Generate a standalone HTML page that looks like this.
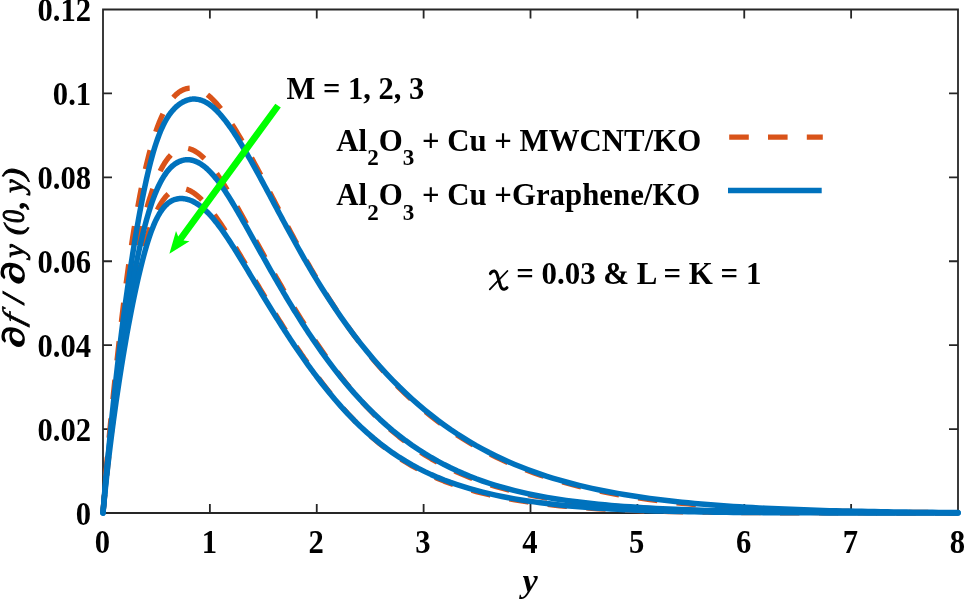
<!DOCTYPE html>
<html><head><meta charset="utf-8"><style>
html,body{margin:0;padding:0;background:#fff;}
svg{display:block;will-change:transform;}
text{font-family:"Liberation Serif",serif;font-weight:bold;fill:#000;}
</style></head><body>
<svg width="965" height="600" viewBox="0 0 965 600">
<rect width="965" height="600" fill="#fff"/>
<path d="M103,9.5H958V513H103ZM103.00,513V504M103.00,9.5V18.5M209.88,513V504M209.88,9.5V18.5M316.75,513V504M316.75,9.5V18.5M423.62,513V504M423.62,9.5V18.5M530.50,513V504M530.50,9.5V18.5M637.38,513V504M637.38,9.5V18.5M744.25,513V504M744.25,9.5V18.5M851.12,513V504M851.12,9.5V18.5M958.00,513V504M958.00,9.5V18.5M103,513.00H112M958,513.00H949M103,429.08H112M958,429.08H949M103,345.16H112M958,345.16H949M103,261.24H112M958,261.24H949M103,177.32H112M958,177.32H949M103,93.40H112M958,93.40H949M103,9.48H112M958,9.48H949" stroke="#262626" stroke-width="1.8" fill="none"/>
<g fill="none" stroke-linejoin="round">
<path d="M103.00,513.00 L103.32,508.47 L104.54,491.99 L105.76,476.52 L106.98,461.88 L108.19,447.95 L109.41,434.62 L110.48,423.35 L111.87,409.22 L113.25,395.56 L114.63,382.29 L116.02,369.35 L117.40,356.70 L118.79,344.33 L120.17,332.22 L121.56,320.38 L122.94,308.84 L124.32,297.61 L125.71,286.74 L127.09,276.24 L128.48,266.09 L129.86,256.29 L131.25,246.85 L132.63,237.75 L134.02,228.99 L135.40,220.56 L136.78,212.47 L138.17,204.69 L139.55,197.24 L140.94,190.10 L142.32,183.27 L143.71,176.73 L145.09,170.50 L146.47,164.55 L147.86,158.89 L149.24,153.51 L150.63,148.40 L152.01,143.55 L153.40,138.96 L154.78,134.63 L156.16,130.54 L157.55,126.69 L158.93,123.07 L160.32,119.68 L161.70,116.50 L163.09,113.53 L164.47,110.76 L165.86,108.19 L167.24,105.80 L168.62,103.60 L170.01,101.58 L171.39,99.72 L172.78,98.02 L174.16,96.47 L175.55,95.08 L176.93,93.82 L178.31,92.70 L179.70,91.71 L181.08,90.84 L182.47,90.10 L183.85,89.47 L185.24,88.97 L186.62,88.58 L188.01,88.30 L189.39,88.12 L190.77,88.06 L192.16,88.10 L193.54,88.24 L194.93,88.47 L196.31,88.81 L197.70,89.24 L199.08,89.76 L200.46,90.38 L201.85,91.08 L203.23,91.87 L204.62,92.74 L206.00,93.70 L207.39,94.74 L208.77,95.86 L210.15,97.05 L211.54,98.32 L212.92,99.67 L214.31,101.09 L215.69,102.57 L217.08,104.12 L218.46,105.74 L219.85,107.41 L221.23,109.15 L222.61,110.94 L224.00,112.79 L225.38,114.69 L226.77,116.63 L228.15,118.63 L229.54,120.67 L230.92,122.76 L232.30,124.88 L233.69,127.05 L235.07,129.26 L236.46,131.50 L237.84,133.77 L239.23,136.08 L240.61,138.42 L241.99,140.79 L243.38,143.19 L244.76,145.61 L246.15,148.06 L247.53,150.53 L248.92,153.02 L250.30,155.53 L251.69,158.07 L253.07,160.61 L254.45,163.18 L255.84,165.76 L257.22,168.35 L258.61,170.95 L259.99,173.57 L261.38,176.19 L262.76,178.83 L264.14,181.47 L265.53,184.11 L266.91,186.76 L268.30,189.42 L269.68,192.08 L271.07,194.74 L272.45,197.40 L273.84,200.06 L275.22,202.72 L276.60,205.38 L277.99,208.03 L279.37,210.68 L280.76,213.33 L282.14,215.97 L283.53,218.61 L284.91,221.24 L286.29,223.86 L287.68,226.48 L289.06,229.08 L290.45,231.68 L291.83,234.27 L293.22,236.85 L294.60,239.41 L295.98,241.97 L297.37,244.51 L298.75,247.04 L300.14,249.56 L301.52,252.07 L302.91,254.56 L304.29,257.04 L305.68,259.50 L307.06,261.95 L308.44,264.38 L309.83,266.80 L311.21,269.20 L312.60,271.59 L313.98,273.96 L315.37,276.31 L316.75,278.65 L322.09,287.51 L328.52,297.82 L334.94,307.76 L341.36,317.33 L347.79,326.54 L354.21,335.38 L360.63,343.88 L367.06,352.02 L373.48,359.83 L379.90,367.31 L386.33,374.47 L392.75,381.33 L399.17,387.88 L405.60,394.14 L412.02,400.12 L418.44,405.84 L424.87,411.29 L431.29,416.50 L437.71,421.46 L444.14,426.20 L450.56,430.71 L456.98,435.01 L463.41,439.11 L469.83,443.01 L476.25,446.72 L482.68,450.26 L489.10,453.62 L495.52,456.82 L501.95,459.86 L508.37,462.76 L514.79,465.51 L521.22,468.12 L527.64,470.60 L534.06,472.96 L540.49,475.20 L546.91,477.32 L553.33,479.34 L559.76,481.25 L566.18,483.07 L572.60,484.79 L579.03,486.42 L585.45,487.97 L591.87,489.43 L598.30,490.82 L604.72,492.13 L611.14,493.38 L617.57,494.55 L623.99,495.67 L630.41,496.72 L636.84,497.71 L643.26,498.65 L649.68,499.54 L656.11,500.38 L662.53,501.17 L668.95,501.91 L675.38,502.61 L681.80,503.28 L688.22,503.90 L694.64,504.49 L701.07,505.04 L707.49,505.56 L713.91,506.05 L720.34,506.51 L726.76,506.95 L733.18,507.35 L739.61,507.73 L746.03,508.09 L752.45,508.43 L758.88,508.74 L765.30,509.04 L771.72,509.32 L778.15,509.58 L784.57,509.82 L790.99,510.05 L797.42,510.26 L803.84,510.46 L810.26,510.64 L816.69,510.81 L823.11,510.98 L829.53,511.13 L835.96,511.27 L842.38,511.40 L848.80,511.52 L855.23,511.63 L861.65,511.74 L868.07,511.84 L874.50,511.93 L880.92,512.01 L887.34,512.09 L893.77,512.16 L900.19,512.23 L906.61,512.29 L913.04,512.35 L919.46,512.40 L925.88,512.45 L932.31,512.50 L938.73,512.54 L945.15,512.58 L951.58,512.62 L958.00,512.65" stroke="#D95319" stroke-width="5.3" stroke-dasharray="19.4 19.35" stroke-dashoffset="2"/><path d="M103.00,513.00 L103.32,508.25 L104.54,491.61 L105.76,476.82 L106.98,463.47 L108.19,451.22 L109.41,439.84 L110.48,430.40 L111.87,418.74 L113.25,407.54 L114.63,396.66 L116.02,386.01 L117.40,375.51 L118.79,365.12 L120.17,354.84 L121.56,344.68 L122.94,334.69 L124.32,324.93 L125.71,315.47 L127.09,306.33 L128.48,297.50 L129.86,288.99 L131.25,280.78 L132.63,272.87 L134.02,265.26 L135.40,257.95 L136.78,250.92 L138.17,244.18 L139.55,237.71 L140.94,231.52 L142.32,225.60 L143.71,219.94 L145.09,214.54 L146.47,209.40 L147.86,204.51 L149.24,199.85 L150.63,195.44 L152.01,191.26 L153.40,187.31 L154.78,183.58 L156.16,180.07 L157.55,176.78 L158.93,173.69 L160.32,170.80 L161.70,168.12 L163.09,165.62 L164.47,163.32 L165.86,161.20 L167.24,159.26 L168.62,157.49 L170.01,155.89 L171.39,154.45 L172.78,153.18 L174.16,152.06 L175.55,151.09 L176.93,150.27 L178.31,149.59 L179.70,149.04 L181.08,148.63 L182.47,148.36 L183.85,148.20 L185.24,148.17 L186.62,148.26 L188.01,148.47 L189.39,148.79 L190.77,149.22 L192.16,149.75 L193.54,150.39 L194.93,151.13 L196.31,151.96 L197.70,152.89 L199.08,153.91 L200.46,155.02 L201.85,156.21 L203.23,157.49 L204.62,158.84 L206.00,160.27 L207.39,161.77 L208.77,163.35 L210.15,165.00 L211.54,166.71 L212.92,168.48 L214.31,170.31 L215.69,172.21 L217.08,174.15 L218.46,176.15 L219.85,178.19 L221.23,180.28 L222.61,182.42 L224.00,184.59 L225.38,186.80 L226.77,189.05 L228.15,191.33 L229.54,193.64 L230.92,195.98 L232.30,198.35 L233.69,200.74 L235.07,203.15 L236.46,205.58 L237.84,208.03 L239.23,210.49 L240.61,212.97 L241.99,215.46 L243.38,217.97 L244.76,220.48 L246.15,222.99 L247.53,225.52 L248.92,228.04 L250.30,230.57 L251.69,233.10 L253.07,235.63 L254.45,238.16 L255.84,240.69 L257.22,243.21 L258.61,245.73 L259.99,248.25 L261.38,250.76 L262.76,253.27 L264.14,255.77 L265.53,258.27 L266.91,260.76 L268.30,263.24 L269.68,265.71 L271.07,268.18 L272.45,270.64 L273.84,273.09 L275.22,275.53 L276.60,277.96 L277.99,280.39 L279.37,282.80 L280.76,285.20 L282.14,287.59 L283.53,289.97 L284.91,292.34 L286.29,294.70 L287.68,297.04 L289.06,299.38 L290.45,301.70 L291.83,304.01 L293.22,306.30 L294.60,308.59 L295.98,310.86 L297.37,313.12 L298.75,315.36 L300.14,317.59 L301.52,319.81 L302.91,322.01 L304.29,324.20 L305.68,326.38 L307.06,328.54 L308.44,330.69 L309.83,332.82 L311.21,334.94 L312.60,337.04 L313.98,339.13 L315.37,341.21 L316.75,343.27 L322.09,351.07 L328.52,360.16 L334.94,368.89 L341.36,377.27 L347.79,385.29 L354.21,392.94 L360.63,400.24 L367.06,407.18 L373.48,413.77 L379.90,420.02 L386.33,425.93 L392.75,431.52 L399.17,436.79 L405.60,441.76 L412.02,446.44 L418.44,450.84 L424.87,454.97 L431.29,458.85 L437.71,462.48 L444.14,465.89 L450.56,469.08 L456.98,472.07 L463.41,474.87 L469.83,477.49 L476.25,479.93 L482.68,482.22 L489.10,484.35 L495.52,486.35 L501.95,488.21 L508.37,489.94 L514.79,491.56 L521.22,493.07 L527.64,494.48 L534.06,495.79 L540.49,497.01 L546.91,498.14 L553.33,499.20 L559.76,500.19 L566.18,501.10 L572.60,501.95 L579.03,502.75 L585.45,503.48 L591.87,504.17 L598.30,504.81 L604.72,505.40 L611.14,505.95 L617.57,506.46 L623.99,506.94 L630.41,507.38 L636.84,507.79 L643.26,508.18 L649.68,508.53 L656.11,508.86 L662.53,509.17 L668.95,509.46 L675.38,509.72 L681.80,509.97 L688.22,510.20 L694.64,510.41 L701.07,510.61 L707.49,510.79 L713.91,510.96 L720.34,511.12 L726.76,511.27 L733.18,511.40 L739.61,511.53 L746.03,511.65 L752.45,511.76 L758.88,511.86 L765.30,511.95 L771.72,512.03 L778.15,512.11 L784.57,512.19 L790.99,512.26 L797.42,512.32 L803.84,512.38 L810.26,512.43 L816.69,512.48 L823.11,512.52 L829.53,512.57 L835.96,512.60 L842.38,512.64 L848.80,512.67 L855.23,512.70 L861.65,512.73 L868.07,512.75 L874.50,512.78 L880.92,512.80 L887.34,512.82 L893.77,512.83 L900.19,512.85 L906.61,512.86 L913.04,512.88 L919.46,512.89 L925.88,512.90 L932.31,512.91 L938.73,512.92 L945.15,512.93 L951.58,512.94 L958.00,512.94" stroke="#D95319" stroke-width="5.3" stroke-dasharray="19.4 19.35" stroke-dashoffset="1"/><path d="M103.00,513.00 L103.32,509.66 L104.54,497.20 L105.76,485.07 L106.98,473.28 L108.19,461.83 L109.41,450.73 L110.48,441.27 L111.87,429.40 L113.25,417.96 L114.63,406.94 L116.02,396.33 L117.40,386.12 L118.79,376.28 L120.17,366.81 L121.56,357.69 L122.94,348.88 L124.32,340.39 L125.71,332.18 L127.09,324.24 L128.48,316.57 L129.86,309.15 L131.25,301.98 L132.63,295.06 L134.02,288.37 L135.40,281.92 L136.78,275.70 L138.17,269.71 L139.55,263.94 L140.94,258.40 L142.32,253.08 L143.71,247.99 L145.09,243.12 L146.47,238.47 L147.86,234.05 L149.24,229.86 L150.63,225.89 L152.01,222.16 L153.40,218.66 L154.78,215.38 L156.16,212.32 L157.55,209.47 L158.93,206.83 L160.32,204.39 L161.70,202.15 L163.09,200.11 L164.47,198.24 L165.86,196.56 L167.24,195.06 L168.62,193.73 L170.01,192.55 L171.39,191.54 L172.78,190.68 L174.16,189.97 L175.55,189.40 L176.93,188.96 L178.31,188.66 L179.70,188.48 L181.08,188.43 L182.47,188.49 L183.85,188.67 L185.24,188.96 L186.62,189.35 L188.01,189.85 L189.39,190.45 L190.77,191.14 L192.16,191.93 L193.54,192.81 L194.93,193.77 L196.31,194.82 L197.70,195.94 L199.08,197.15 L200.46,198.43 L201.85,199.78 L203.23,201.19 L204.62,202.68 L206.00,204.22 L207.39,205.83 L208.77,207.49 L210.15,209.20 L211.54,210.97 L212.92,212.79 L214.31,214.65 L215.69,216.56 L217.08,218.51 L218.46,220.50 L219.85,222.52 L221.23,224.58 L222.61,226.68 L224.00,228.80 L225.38,230.95 L226.77,233.13 L228.15,235.33 L229.54,237.55 L230.92,239.79 L232.30,242.05 L233.69,244.33 L235.07,246.62 L236.46,248.93 L237.84,251.25 L239.23,253.57 L240.61,255.91 L241.99,258.25 L243.38,260.60 L244.76,262.95 L246.15,265.31 L247.53,267.66 L248.92,270.02 L250.30,272.38 L251.69,274.73 L253.07,277.08 L254.45,279.43 L255.84,281.78 L257.22,284.12 L258.61,286.45 L259.99,288.78 L261.38,291.10 L262.76,293.41 L264.14,295.72 L265.53,298.02 L266.91,300.32 L268.30,302.60 L269.68,304.88 L271.07,307.15 L272.45,309.41 L273.84,311.66 L275.22,313.90 L276.60,316.13 L277.99,318.35 L279.37,320.56 L280.76,322.77 L282.14,324.95 L283.53,327.13 L284.91,329.30 L286.29,331.46 L287.68,333.60 L289.06,335.73 L290.45,337.86 L291.83,339.96 L293.22,342.06 L294.60,344.15 L295.98,346.22 L297.37,348.28 L298.75,350.32 L300.14,352.36 L301.52,354.38 L302.91,356.38 L304.29,358.38 L305.68,360.36 L307.06,362.32 L308.44,364.28 L309.83,366.22 L311.21,368.14 L312.60,370.05 L313.98,371.95 L315.37,373.84 L316.75,375.71 L322.09,382.79 L328.52,391.01 L334.94,398.88 L341.36,406.40 L347.79,413.55 L354.21,420.34 L360.63,426.76 L367.06,432.82 L373.48,438.53 L379.90,443.89 L386.33,448.91 L392.75,453.60 L399.17,457.99 L405.60,462.07 L412.02,465.87 L418.44,469.40 L424.87,472.68 L431.29,475.72 L437.71,478.54 L444.14,481.15 L450.56,483.57 L456.98,485.81 L463.41,487.89 L469.83,489.82 L476.25,491.60 L482.68,493.26 L489.10,494.79 L495.52,496.21 L501.95,497.53 L508.37,498.75 L514.79,499.88 L521.22,500.92 L527.64,501.89 L534.06,502.78 L540.49,503.61 L546.91,504.38 L553.33,505.09 L559.76,505.74 L566.18,506.35 L572.60,506.90 L579.03,507.42 L585.45,507.89 L591.87,508.33 L598.30,508.74 L604.72,509.11 L611.14,509.45 L617.57,509.77 L623.99,510.06 L630.41,510.32 L636.84,510.56 L643.26,510.79 L649.68,510.99 L656.11,511.18 L662.53,511.35 L668.95,511.51 L675.38,511.65 L681.80,511.78 L688.22,511.90 L694.64,512.01 L701.07,512.11 L707.49,512.20 L713.91,512.28 L720.34,512.35 L726.76,512.42 L733.18,512.48 L739.61,512.54 L746.03,512.59 L752.45,512.63 L758.88,512.67 L765.30,512.71 L771.72,512.74 L778.15,512.77 L784.57,512.79 L790.99,512.82 L797.42,512.84 L803.84,512.86 L810.26,512.87 L816.69,512.89 L823.11,512.90 L829.53,512.91 L835.96,512.92 L842.38,512.93 L848.80,512.94 L855.23,512.95 L861.65,512.96 L868.07,512.96 L874.50,512.97 L880.92,512.97 L887.34,512.98 L893.77,512.98 L900.19,512.98 L906.61,512.98 L913.04,512.99 L919.46,512.99 L925.88,512.99 L932.31,512.99 L938.73,512.99 L945.15,512.99 L951.58,512.99 L958.00,513.00" stroke="#D95319" stroke-width="5.3" stroke-dasharray="19.4 19.35" stroke-dashoffset="1"/>
<path d="M103.00,513.00 L103.32,509.30 L104.54,495.41 L105.76,481.76 L106.98,468.40 L108.19,455.32 L109.41,442.55 L110.48,431.61 L111.87,417.80 L113.25,404.40 L114.63,391.42 L116.02,378.85 L117.40,366.68 L118.79,354.90 L120.17,343.50 L121.56,332.44 L122.94,321.72 L124.32,311.29 L125.71,301.15 L127.09,291.27 L128.48,281.65 L129.86,272.28 L131.25,263.16 L132.63,254.29 L134.02,245.65 L135.40,237.27 L136.78,229.12 L138.17,221.22 L139.55,213.57 L140.94,206.18 L142.32,199.03 L143.71,192.15 L145.09,185.54 L146.47,179.20 L147.86,173.14 L149.24,167.37 L150.63,161.90 L152.01,156.73 L153.40,151.86 L154.78,147.29 L156.16,143.01 L157.55,139.00 L158.93,135.26 L160.32,131.78 L161.70,128.54 L163.09,125.55 L164.47,122.78 L165.86,120.22 L167.24,117.87 L168.62,115.71 L170.01,113.74 L171.39,111.93 L172.78,110.28 L174.16,108.78 L175.55,107.41 L176.93,106.16 L178.31,105.03 L179.70,104.00 L181.08,103.07 L182.47,102.24 L183.85,101.51 L185.24,100.88 L186.62,100.34 L188.01,99.90 L189.39,99.55 L190.77,99.29 L192.16,99.12 L193.54,99.05 L194.93,99.06 L196.31,99.16 L197.70,99.35 L199.08,99.63 L200.46,100.00 L201.85,100.45 L203.23,100.99 L204.62,101.62 L206.00,102.33 L207.39,103.13 L208.77,104.02 L210.15,104.99 L211.54,106.04 L212.92,107.18 L214.31,108.40 L215.69,109.69 L217.08,111.06 L218.46,112.50 L219.85,114.01 L221.23,115.58 L222.61,117.22 L224.00,118.92 L225.38,120.67 L226.77,122.48 L228.15,124.35 L229.54,126.27 L230.92,128.23 L232.30,130.25 L233.69,132.31 L235.07,134.41 L236.46,136.55 L237.84,138.72 L239.23,140.94 L240.61,143.19 L241.99,145.47 L243.38,147.78 L244.76,150.12 L246.15,152.49 L247.53,154.88 L248.92,157.30 L250.30,159.73 L251.69,162.19 L253.07,164.67 L254.45,167.16 L255.84,169.66 L257.22,172.19 L258.61,174.72 L259.99,177.27 L261.38,179.82 L262.76,182.39 L264.14,184.96 L265.53,187.54 L266.91,190.12 L268.30,192.71 L269.68,195.30 L271.07,197.90 L272.45,200.50 L273.84,203.09 L275.22,205.69 L276.60,208.28 L277.99,210.88 L279.37,213.47 L280.76,216.05 L282.14,218.63 L283.53,221.21 L284.91,223.78 L286.29,226.34 L287.68,228.90 L289.06,231.45 L290.45,233.99 L291.83,236.51 L293.22,239.03 L294.60,241.54 L295.98,244.04 L297.37,246.53 L298.75,249.00 L300.14,251.46 L301.52,253.91 L302.91,256.35 L304.29,258.77 L305.68,261.17 L307.06,263.57 L308.44,265.95 L309.83,268.31 L311.21,270.65 L312.60,272.99 L313.98,275.30 L315.37,277.60 L316.75,279.88 L322.09,288.53 L328.52,298.59 L334.94,308.29 L341.36,317.64 L347.79,326.63 L354.21,335.27 L360.63,343.58 L367.06,351.55 L373.48,359.21 L379.90,366.55 L386.33,373.59 L392.75,380.34 L399.17,386.81 L405.60,393.00 L412.02,398.93 L418.44,404.61 L424.87,410.04 L431.29,415.23 L437.71,420.20 L444.14,424.94 L450.56,429.47 L456.98,433.79 L463.41,437.91 L469.83,441.83 L476.25,445.57 L482.68,449.12 L489.10,452.51 L495.52,455.72 L501.95,458.78 L508.37,461.69 L514.79,464.45 L521.22,467.07 L527.64,469.56 L534.06,471.92 L540.49,474.16 L546.91,476.28 L553.33,478.29 L559.76,480.20 L566.18,482.01 L572.60,483.72 L579.03,485.34 L585.45,486.87 L591.87,488.32 L598.30,489.70 L604.72,491.00 L611.14,492.23 L617.57,493.39 L623.99,494.50 L630.41,495.54 L636.84,496.54 L643.26,497.47 L649.68,498.36 L656.11,499.20 L662.53,500.00 L668.95,500.75 L675.38,501.47 L681.80,502.14 L688.22,502.78 L694.64,503.39 L701.07,503.96 L707.49,504.51 L713.91,505.02 L720.34,505.50 L726.76,505.96 L733.18,506.40 L739.61,506.81 L746.03,507.20 L752.45,507.56 L758.88,507.91 L765.30,508.24 L771.72,508.54 L778.15,508.83 L784.57,509.11 L790.99,509.37 L797.42,509.61 L803.84,509.84 L810.26,510.05 L816.69,510.26 L823.11,510.45 L829.53,510.63 L835.96,510.79 L842.38,510.95 L848.80,511.10 L855.23,511.24 L861.65,511.37 L868.07,511.49 L874.50,511.60 L880.92,511.71 L887.34,511.81 L893.77,511.90 L900.19,511.99 L906.61,512.07 L913.04,512.14 L919.46,512.21 L925.88,512.28 L932.31,512.34 L938.73,512.39 L945.15,512.45 L951.58,512.49 L958.00,512.54" stroke="#0072BD" stroke-width="5.5" stroke-linecap="round"/><path d="M103.00,513.00 L103.32,508.72 L104.54,493.60 L105.76,480.03 L106.98,467.67 L108.19,456.24 L109.41,445.53 L110.48,436.58 L111.87,425.47 L113.25,414.74 L114.63,404.26 L116.02,393.96 L117.40,383.77 L118.79,373.67 L120.17,363.64 L121.56,353.72 L122.94,343.94 L124.32,334.36 L125.71,325.06 L127.09,316.06 L128.48,307.34 L129.86,298.92 L131.25,290.79 L132.63,282.95 L134.02,275.40 L135.40,268.14 L136.78,261.16 L138.17,254.46 L139.55,248.04 L140.94,241.90 L142.32,236.03 L143.71,230.43 L145.09,225.10 L146.47,220.02 L147.86,215.20 L149.24,210.63 L150.63,206.31 L152.01,202.23 L153.40,198.39 L154.78,194.77 L156.16,191.38 L157.55,188.21 L158.93,185.24 L160.32,182.48 L161.70,179.91 L163.09,177.54 L164.47,175.35 L165.86,173.33 L167.24,171.48 L168.62,169.80 L170.01,168.27 L171.39,166.89 L172.78,165.65 L174.16,164.54 L175.55,163.56 L176.93,162.71 L178.31,161.96 L179.70,161.33 L181.08,160.81 L182.47,160.39 L183.85,160.07 L185.24,159.86 L186.62,159.75 L188.01,159.73 L189.39,159.81 L190.77,159.99 L192.16,160.26 L193.54,160.63 L194.93,161.09 L196.31,161.63 L197.70,162.27 L199.08,162.99 L200.46,163.80 L201.85,164.70 L203.23,165.68 L204.62,166.75 L206.00,167.90 L207.39,169.13 L208.77,170.44 L210.15,171.83 L211.54,173.30 L212.92,174.84 L214.31,176.45 L215.69,178.14 L217.08,179.89 L218.46,181.69 L219.85,183.56 L221.23,185.49 L222.61,187.46 L224.00,189.49 L225.38,191.56 L226.77,193.68 L228.15,195.84 L229.54,198.03 L230.92,200.26 L232.30,202.53 L233.69,204.82 L235.07,207.14 L236.46,209.49 L237.84,211.86 L239.23,214.26 L240.61,216.67 L241.99,219.10 L243.38,221.54 L244.76,223.99 L246.15,226.46 L247.53,228.93 L248.92,231.41 L250.30,233.90 L251.69,236.39 L253.07,238.88 L254.45,241.37 L255.84,243.86 L257.22,246.35 L258.61,248.84 L259.99,251.32 L261.38,253.80 L262.76,256.28 L264.14,258.75 L265.53,261.22 L266.91,263.68 L268.30,266.14 L269.68,268.58 L271.07,271.02 L272.45,273.46 L273.84,275.88 L275.22,278.29 L276.60,280.70 L277.99,283.09 L279.37,285.48 L280.76,287.85 L282.14,290.22 L283.53,292.57 L284.91,294.91 L286.29,297.24 L287.68,299.55 L289.06,301.86 L290.45,304.15 L291.83,306.42 L293.22,308.69 L294.60,310.94 L295.98,313.18 L297.37,315.40 L298.75,317.61 L300.14,319.80 L301.52,321.98 L302.91,324.14 L304.29,326.29 L305.68,328.43 L307.06,330.55 L308.44,332.65 L309.83,334.74 L311.21,336.81 L312.60,338.87 L313.98,340.91 L315.37,342.93 L316.75,344.94 L322.09,352.55 L328.52,361.37 L334.94,369.84 L341.36,377.95 L347.79,385.70 L354.21,393.11 L360.63,400.17 L367.06,406.89 L373.48,413.28 L379.90,419.35 L386.33,425.10 L392.75,430.56 L399.17,435.72 L405.60,440.59 L412.02,445.20 L418.44,449.55 L424.87,453.65 L431.29,457.51 L437.71,461.15 L444.14,464.57 L450.56,467.78 L456.98,470.80 L463.41,473.63 L469.83,476.28 L476.25,478.76 L482.68,481.08 L489.10,483.26 L495.52,485.29 L501.95,487.19 L508.37,488.96 L514.79,490.62 L521.22,492.16 L527.64,493.60 L534.06,494.94 L540.49,496.20 L546.91,497.36 L553.33,498.44 L559.76,499.45 L566.18,500.39 L572.60,501.27 L579.03,502.08 L585.45,502.84 L591.87,503.54 L598.30,504.19 L604.72,504.80 L611.14,505.37 L617.57,505.89 L623.99,506.39 L630.41,506.84 L636.84,507.27 L643.26,507.66 L649.68,508.03 L656.11,508.38 L662.53,508.70 L668.95,509.00 L675.38,509.27 L681.80,509.53 L688.22,509.78 L694.64,510.00 L701.07,510.21 L707.49,510.41 L713.91,510.59 L720.34,510.76 L726.76,510.92 L733.18,511.07 L739.61,511.21 L746.03,511.33 L752.45,511.45 L758.88,511.57 L765.30,511.67 L771.72,511.77 L778.15,511.86 L784.57,511.94 L790.99,512.02 L797.42,512.09 L803.84,512.16 L810.26,512.22 L816.69,512.28 L823.11,512.34 L829.53,512.39 L835.96,512.44 L842.38,512.48 L848.80,512.52 L855.23,512.56 L861.65,512.59 L868.07,512.63 L874.50,512.66 L880.92,512.68 L887.34,512.71 L893.77,512.73 L900.19,512.76 L906.61,512.78 L913.04,512.80 L919.46,512.81 L925.88,512.83 L932.31,512.84 L938.73,512.86 L945.15,512.87 L951.58,512.88 L958.00,512.89" stroke="#0072BD" stroke-width="5.5" stroke-linecap="round"/><path d="M103.00,513.00 L103.32,509.54 L104.54,496.87 L105.76,484.89 L106.98,473.52 L108.19,462.69 L109.41,452.32 L110.48,443.57 L111.87,432.65 L113.25,422.16 L114.63,412.03 L116.02,402.23 L117.40,392.73 L118.79,383.50 L120.17,374.52 L121.56,365.78 L122.94,357.27 L124.32,348.99 L125.71,340.94 L127.09,333.12 L128.48,325.51 L129.86,318.13 L131.25,310.95 L132.63,303.99 L134.02,297.23 L135.40,290.67 L136.78,284.33 L138.17,278.20 L139.55,272.28 L140.94,266.57 L142.32,261.09 L143.71,255.84 L145.09,250.81 L146.47,246.03 L147.86,241.49 L149.24,237.20 L150.63,233.18 L152.01,229.42 L153.40,225.92 L154.78,222.69 L156.16,219.71 L157.55,216.97 L158.93,214.47 L160.32,212.19 L161.70,210.13 L163.09,208.28 L164.47,206.62 L165.86,205.15 L167.24,203.87 L168.62,202.74 L170.01,201.78 L171.39,200.96 L172.78,200.29 L174.16,199.73 L175.55,199.30 L176.93,198.97 L178.31,198.74 L179.70,198.60 L181.08,198.55 L182.47,198.58 L183.85,198.70 L185.24,198.90 L186.62,199.19 L188.01,199.55 L189.39,199.99 L190.77,200.50 L192.16,201.09 L193.54,201.76 L194.93,202.50 L196.31,203.31 L197.70,204.19 L199.08,205.14 L200.46,206.16 L201.85,207.25 L203.23,208.40 L204.62,209.62 L206.00,210.91 L207.39,212.26 L208.77,213.68 L210.15,215.16 L211.54,216.70 L212.92,218.30 L214.31,219.96 L215.69,221.66 L217.08,223.42 L218.46,225.23 L219.85,227.09 L221.23,228.98 L222.61,230.92 L224.00,232.90 L225.38,234.91 L226.77,236.95 L228.15,239.02 L229.54,241.13 L230.92,243.26 L232.30,245.41 L233.69,247.59 L235.07,249.79 L236.46,252.00 L237.84,254.24 L239.23,256.48 L240.61,258.75 L241.99,261.02 L243.38,263.30 L244.76,265.59 L246.15,267.88 L247.53,270.19 L248.92,272.49 L250.30,274.80 L251.69,277.10 L253.07,279.41 L254.45,281.72 L255.84,284.02 L257.22,286.32 L258.61,288.62 L259.99,290.91 L261.38,293.20 L262.76,295.48 L264.14,297.76 L265.53,300.03 L266.91,302.30 L268.30,304.56 L269.68,306.81 L271.07,309.05 L272.45,311.29 L273.84,313.51 L275.22,315.73 L276.60,317.94 L277.99,320.14 L279.37,322.33 L280.76,324.51 L282.14,326.67 L283.53,328.83 L284.91,330.98 L286.29,333.11 L287.68,335.23 L289.06,337.34 L290.45,339.44 L291.83,341.53 L293.22,343.60 L294.60,345.66 L295.98,347.71 L297.37,349.75 L298.75,351.77 L300.14,353.78 L301.52,355.77 L302.91,357.75 L304.29,359.72 L305.68,361.67 L307.06,363.61 L308.44,365.54 L309.83,367.45 L311.21,369.35 L312.60,371.23 L313.98,373.09 L315.37,374.95 L316.75,376.78 L322.09,383.74 L328.52,391.79 L334.94,399.49 L341.36,406.84 L347.79,413.82 L354.21,420.44 L360.63,426.70 L367.06,432.61 L373.48,438.18 L379.90,443.41 L386.33,448.31 L392.75,452.90 L399.17,457.19 L405.60,461.19 L412.02,464.92 L418.44,468.39 L424.87,471.62 L431.29,474.62 L437.71,477.41 L444.14,479.99 L450.56,482.40 L456.98,484.63 L463.41,486.71 L469.83,488.65 L476.25,490.44 L482.68,492.11 L489.10,493.67 L495.52,495.11 L501.95,496.46 L508.37,497.71 L514.79,498.87 L521.22,499.95 L527.64,500.95 L534.06,501.88 L540.49,502.75 L546.91,503.56 L553.33,504.30 L559.76,505.00 L566.18,505.64 L572.60,506.24 L579.03,506.79 L585.45,507.31 L591.87,507.78 L598.30,508.22 L604.72,508.63 L611.14,509.00 L617.57,509.35 L623.99,509.67 L630.41,509.97 L636.84,510.24 L643.26,510.49 L649.68,510.71 L656.11,510.93 L662.53,511.12 L668.95,511.29 L675.38,511.46 L681.80,511.60 L688.22,511.74 L694.64,511.86 L701.07,511.97 L707.49,512.08 L713.91,512.17 L720.34,512.25 L726.76,512.33 L733.18,512.40 L739.61,512.46 L746.03,512.52 L752.45,512.57 L758.88,512.62 L765.30,512.66 L771.72,512.70 L778.15,512.73 L784.57,512.76 L790.99,512.79 L797.42,512.81 L803.84,512.83 L810.26,512.85 L816.69,512.87 L823.11,512.88 L829.53,512.90 L835.96,512.91 L842.38,512.92 L848.80,512.93 L855.23,512.94 L861.65,512.95 L868.07,512.95 L874.50,512.96 L880.92,512.97 L887.34,512.97 L893.77,512.97 L900.19,512.98 L906.61,512.98 L913.04,512.98 L919.46,512.99 L925.88,512.99 L932.31,512.99 L938.73,512.99 L945.15,512.99 L951.58,512.99 L958.00,512.99" stroke="#0072BD" stroke-width="5.5" stroke-linecap="round"/>
</g>
<g><text transform="translate(102.40,552.85) scale(1.02,1.1)" font-size="30" text-anchor="middle" >0</text><text transform="translate(209.28,552.85) scale(1.02,1.1)" font-size="30" text-anchor="middle" >1</text><text transform="translate(316.15,552.85) scale(1.02,1.1)" font-size="30" text-anchor="middle" >2</text><text transform="translate(423.02,552.85) scale(1.02,1.1)" font-size="30" text-anchor="middle" >3</text><text transform="translate(529.90,552.85) scale(1.02,1.1)" font-size="30" text-anchor="middle" >4</text><text transform="translate(636.77,552.85) scale(1.02,1.1)" font-size="30" text-anchor="middle" >5</text><text transform="translate(743.65,552.85) scale(1.02,1.1)" font-size="30" text-anchor="middle" >6</text><text transform="translate(850.52,552.85) scale(1.02,1.1)" font-size="30" text-anchor="middle" >7</text><text transform="translate(957.40,552.85) scale(1.02,1.1)" font-size="30" text-anchor="middle" >8</text><text transform="translate(91.10,524.90) scale(1.02,1.1)" font-size="30" text-anchor="end" >0</text><text transform="translate(91.10,440.98) scale(1.02,1.1)" font-size="30" text-anchor="end" >0.02</text><text transform="translate(91.10,357.06) scale(1.02,1.1)" font-size="30" text-anchor="end" >0.04</text><text transform="translate(91.10,273.14) scale(1.02,1.1)" font-size="30" text-anchor="end" >0.06</text><text transform="translate(91.10,189.22) scale(1.02,1.1)" font-size="30" text-anchor="end" >0.08</text><text transform="translate(91.10,105.30) scale(1.02,1.1)" font-size="30" text-anchor="end" >0.1</text><text transform="translate(91.10,21.38) scale(1.02,1.1)" font-size="30" text-anchor="end" >0.12</text></g>
<g><text transform="translate(24.0,347.38) rotate(-90) scale(1.4222,1.0154)" font-size="30" font-style="italic" style="font-weight:normal" stroke="#000" stroke-width="1.3">∂</text><text stroke="#000" stroke-width="0.6" transform="translate(23.29,325.75) rotate(-90) scale(1.1396,0.985) skewX(-14)" font-size="30" font-style="italic" style="font-weight:normal">f</text><text stroke="#000" stroke-width="0.95" transform="translate(23.8,303.47) rotate(-90) scale(1.1444,1.0822)" font-size="30" font-style="italic" style="font-weight:normal">/</text><text transform="translate(24.07,284.22) rotate(-90) scale(1.5068,1.0454)" font-size="30" font-style="italic" style="font-weight:normal" stroke="#000" stroke-width="1.3">∂</text><text stroke="#000" stroke-width="0.95" transform="translate(23.77,257.5) rotate(-90) scale(1.0,0.9604)" font-size="30" font-style="italic" style="font-weight:normal">y</text><text stroke="#000" stroke-width="0.95" transform="translate(22.58,235.19) rotate(-90) scale(1.0935,0.9384)" font-size="30" font-style="italic" style="font-weight:normal">(</text><text stroke="#000" stroke-width="0.95" transform="translate(24.26,223.01) rotate(-90) scale(0.8674,1.0749)" font-size="30" font-style="italic" style="font-weight:normal">0</text><text stroke="#000" stroke-width="0.95" transform="translate(23.74,210.6) rotate(-90) scale(1.2433,1.1011)" font-size="30" font-style="italic" style="font-weight:normal">,</text><text stroke="#000" stroke-width="0.95" transform="translate(23.97,192.8) rotate(-90) scale(1.0,0.9604)" font-size="30" font-style="italic" style="font-weight:normal">y</text><text stroke="#000" stroke-width="0.95" transform="translate(22.95,179.8) rotate(-90) scale(1.1728,0.9543)" font-size="30" font-style="italic" style="font-weight:normal">)</text></g>
<text transform="translate(522.61,592.25) scale(1.1453,1.0912)" font-size="30" text-anchor="start" font-style="italic">y</text>
<text transform="translate(286.57,99.28) scale(1.0162,1.0874)" font-size="30" text-anchor="start" >M = 1, 2, 3</text>
<text transform="translate(336.3,150.5) scale(1.028,1.07)" font-size="30">Al<tspan font-size="22.5" dy="13.5">2</tspan><tspan dy="-13.5">O</tspan><tspan font-size="22.5" dy="13.5">3</tspan><tspan dy="-13.5"> + Cu + MWCNT/KO</tspan></text>
<text transform="translate(336.3,205.4) scale(1.028,1.07)" font-size="30">Al<tspan font-size="22.5" dy="13.5">2</tspan><tspan dy="-13.5">O</tspan><tspan font-size="22.5" dy="13.5">3</tspan><tspan dy="-13.5"> + Cu +Graphene/KO</tspan></text>
<path d="M729.2,137.1H822.8" stroke="#D95319" stroke-width="5.3" stroke-dasharray="19.6 19.2"/>
<path d="M728,190.5H821.7" stroke="#0072BD" stroke-width="5.5"/>
<path d="M490.4,273.6 Q492,270.9 494.4,271.1 Q496.6,271.5 497.9,277 L500.6,286.2 Q501.8,289.6 504.2,289.3 Q506,289 507,287.6" stroke="#000" stroke-width="3.0" fill="none" stroke-linecap="round"/>
<path d="M507.4,271 L489.8,289.4" stroke="#000" stroke-width="1.8" fill="none" stroke-linecap="round"/>
<text transform="translate(516.20,284.15) scale(1.0308,1.0608)" font-size="30" text-anchor="start" >= 0.03 &amp; L = K = 1</text>
<path fill="#00FF00" d="M275.3,103.7 L178.2,236.4 L176,231 L169.4,253.8 L189.5,241.2 L183.5,240.6 L280.8,107.5 Z"/>
</svg>
</body></html>
